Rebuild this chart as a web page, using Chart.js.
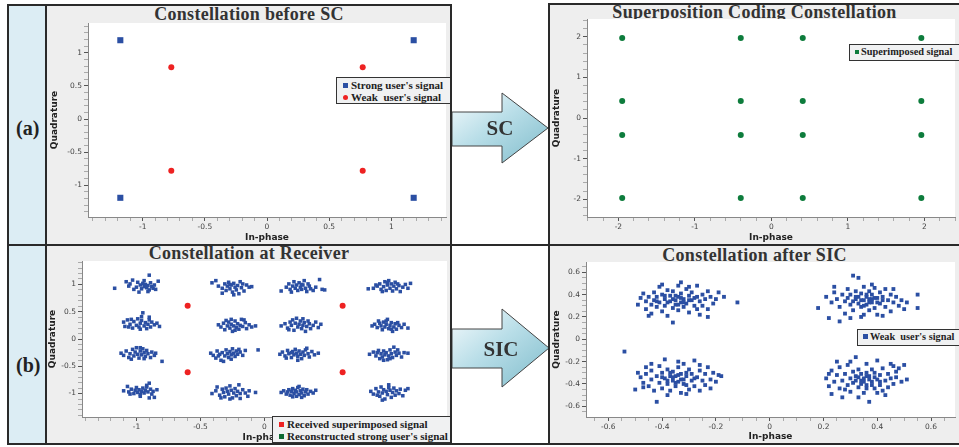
<!DOCTYPE html>
<html>
<head>
<meta charset="utf-8">
<script src="https://cdn.jsdelivr.net/npm/chart.js@4.4.0/dist/chart.umd.min.js"></script>
<style>
  body { margin:0; width:959px; height:447px; position:relative; overflow:hidden; background:#fff; }
  .panel { position:absolute; background:#eeeeee; }
  .cell { position:absolute; background:#dcedf4; }
  .title { position:absolute; left:0; right:0; text-align:center; font:bold 18px 'Liberation Serif', serif; line-height:18px; color:#333; white-space:nowrap; letter-spacing:0.3px; }
  .tag { position:absolute; font:bold 20px 'Liberation Serif', serif; color:#222; }
  .legend { position:absolute; background:#f0f1f2; border:1px solid #333; box-sizing:border-box; font:bold 11px 'Liberation Serif', serif; color:#222; white-space:nowrap; padding:0 0 0 6px; z-index:5; }
  .legend div { height:12px; line-height:12px; }
  .mk { display:inline-block; width:5px; height:5px; margin-right:3px; vertical-align:1px; }
  .ln { position:absolute; background:#2a2a2a; z-index:6; }
  canvas { position:absolute; z-index:2; }
  svg { position:absolute; left:0; top:0; z-index:4; }
</style>
</head>
<body>

<div class="cell" style="left:7px;top:5px;width:39px;height:439px;"></div>
<div class="tag" style="left:16px;top:117px;">(a)</div>
<div class="tag" style="left:16px;top:354px;">(b)</div>

<div class="panel" style="left:47px;top:6px;width:404px;height:238px;"><div class="title" style="top:-1px;">Constellation before SC</div></div>
<div class="panel" style="left:550px;top:4px;width:409px;height:240px;"><div class="title" style="top:-1px;">Superposition Coding Constellation</div></div>
<div class="panel" style="left:47px;top:246px;width:404px;height:198px;"><div class="title" style="top:-2px;">Constellation at Receiver</div></div>
<div class="panel" style="left:550px;top:246px;width:409px;height:198px;"><div class="title" style="top:0px;">Constellation after SIC</div></div>

<canvas id="c1" width="404" height="237" style="left:47px;top:6px;"></canvas>
<canvas id="c2" width="408" height="238" style="left:551px;top:5px;"></canvas>
<canvas id="c3" width="404" height="198" style="left:47px;top:246px;"></canvas>
<canvas id="c4" width="408" height="198" style="left:551px;top:246px;"></canvas>

<div class="legend" style="left:336px;top:77px;width:116px;height:27px;padding-top:1px;">
  <div><span class="mk" style="background:#2b4fa3"></span>Strong user's signal</div>
  <div><span class="mk" style="background:#ee2222;border-radius:50%"></span>Weak&nbsp; user's signal</div>
</div>
<div class="legend" style="left:849px;top:44px;width:120px;height:17px;padding-top:1px;padding-left:5px;font-size:10.3px;">
  <div><span class="mk" style="background:#0d7c3c;width:4px;height:4px;margin-right:2px"></span>Superimposed signal</div>
</div>
<div class="legend" style="left:272px;top:416px;width:180px;height:27px;padding-top:1px;">
  <div><span class="mk" style="background:#ee2222"></span>Received superimposed signal</div>
  <div><span class="mk" style="background:#0d6a32"></span>Reconstructed strong user's signal</div>
</div>
<div class="legend" style="left:857px;top:329px;width:110px;height:17px;padding-top:1px;padding-left:5px;font-size:10.3px;">
  <div><span class="mk" style="background:#2b4fa3;margin-right:2px"></span>Weak&nbsp; user's signal</div>
</div>

<svg width="959" height="447">
  <defs>
    <linearGradient id="ag" x1="0" y1="0" x2="1" y2="1">
      <stop offset="0" stop-color="#f6fbfd"/>
      <stop offset="0.45" stop-color="#b9dee8"/>
      <stop offset="1" stop-color="#7fbccb"/>
    </linearGradient>
  </defs>
  <polygon points="452,112 502,112 502,93 548,128 502,163 502,146 452,146" fill="url(#ag)" stroke="#444" stroke-width="1"/>
  <polygon points="452,329 502,329 502,309 549,348 502,387 502,368 452,368" fill="url(#ag)" stroke="#444" stroke-width="1"/>
  <text x="500" y="135" text-anchor="middle" font-family="Liberation Serif" font-weight="bold" font-size="21" fill="#333">SC</text>
  <text x="501" y="356" text-anchor="middle" font-family="Liberation Serif" font-weight="bold" font-size="21" fill="#333">SIC</text>
</svg>

<div class="ln" style="left:7px;top:4px;width:445px;height:2px;"></div>
<div class="ln" style="left:549px;top:3px;width:410px;height:2px;"></div>
<div class="ln" style="left:7px;top:244px;width:952px;height:2px;"></div>
<div class="ln" style="left:7px;top:443px;width:952px;height:2px;"></div>
<div class="ln" style="left:7px;top:4px;width:2px;height:441px;"></div>
<div class="ln" style="left:45px;top:4px;width:2px;height:441px;"></div>
<div class="ln" style="left:450px;top:4px;width:2px;height:441px;"></div>
<div class="ln" style="left:548px;top:3px;width:2px;height:442px;"></div>

<script>
// panel (a) left: constellation before SC
const strongPts = [[-1.18, 1.19], [1.18, 1.19], [-1.18, -1.19], [1.18, -1.19]];
const weakPts = [[-0.77, 0.78], [0.77, 0.78], [-0.77, -0.78], [0.77, -0.78]];

// panel (a) right: superposition coding constellation
const scPts = [
  [-1.95, 1.97], [-0.4, 1.97], [0.41, 1.97], [1.96, 1.97],
  [-1.95, 0.42], [-0.4, 0.42], [0.41, 0.42], [1.96, 0.42],
  [-1.95, -0.42], [-0.4, -0.42], [0.41, -0.42], [1.96, -0.42],
  [-1.95, -1.97], [-0.4, -1.97], [0.41, -1.97], [1.96, -1.97]
];

// panel (b) left: constellation at receiver
const rxPts = [
  [-1.17,0.93],[-1.08,1.05],[-1.05,1.01],[-1.03,1.08],[-1.00,0.95],[-0.99,1.04],[-0.97,0.99],[-0.96,0.92],[-0.95,1.02],[-0.94,0.96],[-0.93,1.00],[-0.92,0.94],[-0.91,0.98],[-0.90,1.17],[-0.90,0.90],[-0.89,1.03],[-0.88,0.96],[-0.87,0.93],[-0.86,0.99],[-0.83,1.06],[-1.06,0.97],[-1.02,0.91],[-0.98,0.86],[-0.94,1.07],[-0.91,0.87],[-0.85,0.91],
  [-0.41,1.03],[-0.38,1.07],[-0.36,0.97],[-0.33,0.93],[-0.31,1.01],[-0.30,0.89],[-0.29,0.97],[-0.28,1.04],[-0.27,0.92],[-0.26,0.99],[-0.25,0.86],[-0.24,1.02],[-0.23,0.95],[-0.22,0.90],[-0.21,0.98],[-0.20,0.83],[-0.19,1.05],[-0.18,0.94],[-0.16,0.88],[-0.14,0.99],[-0.12,0.95],[-0.10,0.96],[-0.33,0.84],[-0.27,1.00],[-0.24,0.81],[-0.17,1.01],
  [0.13,0.88],[0.17,0.95],[0.19,1.01],[0.20,0.91],[0.22,0.97],[0.23,1.05],[0.24,0.93],[0.25,0.99],[0.26,0.89],[0.27,1.03],[0.28,0.95],[0.29,0.91],[0.30,0.99],[0.31,1.07],[0.32,0.93],[0.33,0.87],[0.35,0.97],[0.36,0.92],[0.38,0.89],[0.40,0.95],[0.43,1.09],[0.45,0.91],[0.47,0.90],[0.21,0.86],[0.29,1.00],[0.34,1.01],
  [0.81,0.92],[0.85,0.93],[0.88,0.97],[0.90,1.01],[0.91,0.91],[0.93,0.96],[0.94,1.05],[0.95,0.89],[0.96,0.99],[0.97,1.07],[0.98,0.93],[0.99,1.01],[1.00,0.88],[1.01,0.97],[1.02,1.04],[1.03,0.92],[1.05,0.98],[1.06,0.87],[1.08,0.95],[1.10,1.00],[1.12,0.93],[1.14,1.02],[0.92,0.87],[0.96,1.03],[1.04,1.01],[0.87,0.99],
  [-1.10,0.31],[-1.09,0.23],[-1.07,0.35],[-1.05,0.27],[-1.03,0.20],[-1.02,0.32],[-1.00,0.25],[-0.99,0.37],[-0.98,0.22],[-0.97,0.29],[-0.96,0.34],[-0.95,0.48],[-0.94,0.24],[-0.93,0.30],[-0.92,0.19],[-0.91,0.27],[-0.90,0.35],[-0.89,0.22],[-0.88,0.31],[-0.86,0.26],[-0.84,0.29],[-0.82,0.23],[-0.96,0.41],[-1.04,0.36],[-0.97,0.18],[-0.90,0.40],[-1.06,0.22],
  [-0.36,0.26],[-0.34,0.22],[-0.32,0.29],[-0.31,0.17],[-0.29,0.24],[-0.28,0.31],[-0.27,0.20],[-0.26,0.27],[-0.25,0.14],[-0.24,0.24],[-0.23,0.33],[-0.22,0.21],[-0.21,0.28],[-0.20,0.18],[-0.19,0.25],[-0.18,0.36],[-0.17,0.23],[-0.15,0.30],[-0.14,0.19],[-0.12,0.26],[-0.10,0.22],[-0.07,0.24],[-0.30,0.34],[-0.23,0.16],[-0.16,0.35],[-0.26,0.36],
  [0.13,0.24],[0.16,0.28],[0.18,0.20],[0.20,0.31],[0.21,0.25],[0.23,0.16],[0.24,0.29],[0.25,0.38],[0.26,0.22],[0.27,0.27],[0.28,0.33],[0.29,0.19],[0.30,0.25],[0.31,0.30],[0.32,0.14],[0.33,0.23],[0.35,0.28],[0.36,0.19],[0.38,0.25],[0.40,0.31],[0.42,0.21],[0.44,0.27],[0.22,0.35],[0.30,0.37],[0.34,0.33],[0.19,0.17],
  [0.84,0.24],[0.86,0.27],[0.88,0.21],[0.90,0.29],[0.91,0.24],[0.92,0.17],[0.93,0.31],[0.94,0.22],[0.95,0.27],[0.96,0.36],[0.97,0.19],[0.98,0.25],[0.99,0.30],[1.00,0.14],[1.01,0.22],[1.02,0.28],[1.03,0.18],[1.05,0.25],[1.07,0.21],[1.09,0.27],[1.12,0.20],[0.95,0.33],[0.99,0.18],[0.89,0.33],[1.04,0.30],
  [-1.12,-0.26],[-1.10,-0.30],[-1.08,-0.22],[-1.06,-0.34],[-1.05,-0.27],[-1.03,-0.19],[-1.02,-0.31],[-1.01,-0.24],[-1.00,-0.16],[-0.99,-0.28],[-0.98,-0.35],[-0.97,-0.22],[-0.96,-0.29],[-0.95,-0.18],[-0.94,-0.25],[-0.93,-0.32],[-0.92,-0.21],[-0.91,-0.27],[-0.89,-0.34],[-0.88,-0.24],[-0.86,-0.30],[-0.85,-0.26],[-0.80,-0.41],[-1.04,-0.37],[-0.97,-0.16],[-0.94,-0.36],
  [-0.42,-0.26],[-0.40,-0.30],[-0.38,-0.35],[-0.37,-0.22],[-0.35,-0.28],[-0.34,-0.39],[-0.33,-0.25],[-0.31,-0.31],[-0.30,-0.20],[-0.29,-0.27],[-0.28,-0.34],[-0.27,-0.23],[-0.26,-0.29],[-0.25,-0.18],[-0.24,-0.26],[-0.23,-0.32],[-0.22,-0.22],[-0.21,-0.28],[-0.19,-0.24],[-0.17,-0.30],[-0.15,-0.21],[-0.05,-0.20],[-0.32,-0.41],[-0.26,-0.37],[-0.20,-0.19],[-0.36,-0.31],
  [0.12,-0.28],[0.14,-0.24],[0.16,-0.31],[0.18,-0.21],[0.19,-0.27],[0.21,-0.34],[0.22,-0.23],[0.23,-0.29],[0.24,-0.19],[0.25,-0.26],[0.26,-0.32],[0.27,-0.22],[0.28,-0.28],[0.29,-0.36],[0.30,-0.24],[0.31,-0.30],[0.32,-0.20],[0.34,-0.27],[0.35,-0.33],[0.37,-0.23],[0.39,-0.29],[0.42,-0.26],[0.17,-0.35],[0.26,-0.39],[0.33,-0.17],[0.21,-0.25],
  [0.82,-0.28],[0.85,-0.24],[0.87,-0.31],[0.89,-0.21],[0.90,-0.36],[0.91,-0.27],[0.92,-0.33],[0.93,-0.22],[0.94,-0.29],[0.95,-0.25],[0.96,-0.38],[0.97,-0.31],[0.98,-0.20],[0.99,-0.27],[1.00,-0.34],[1.01,-0.15],[1.02,-0.24],[1.03,-0.30],[1.05,-0.26],[1.07,-0.33],[1.09,-0.25],[1.12,-0.26],[0.93,-0.39],[0.98,-0.36],[1.04,-0.20],[0.88,-0.25],
  [-1.10,-0.95],[-1.07,-0.87],[-1.06,-0.97],[-1.04,-0.92],[-1.02,-1.00],[-1.01,-0.94],[-1.00,-0.89],[-0.99,-0.98],[-0.98,-0.93],[-0.97,-1.02],[-0.96,-0.96],[-0.95,-0.90],[-0.94,-0.99],[-0.93,-0.94],[-0.92,-0.85],[-0.91,-0.97],[-0.90,-0.81],[-0.89,-0.92],[-0.88,-1.01],[-0.87,-0.96],[-0.86,-1.07],[-0.84,-0.93],[-0.90,-1.08],[-0.97,-1.05],[-1.05,-1.01],[-0.92,-0.88],
  [-0.41,-1.00],[-0.38,-0.95],[-0.37,-0.88],[-0.35,-1.03],[-0.33,-0.92],[-0.32,-0.98],[-0.31,-1.06],[-0.30,-0.90],[-0.29,-0.96],[-0.28,-1.01],[-0.27,-0.86],[-0.26,-0.94],[-0.25,-1.08],[-0.24,-0.99],[-0.23,-0.91],[-0.22,-1.04],[-0.21,-0.96],[-0.20,-0.84],[-0.19,-1.00],[-0.17,-0.93],[-0.15,-0.99],[-0.13,-1.05],[-0.12,-0.95],[-0.07,-0.98],[-0.34,-1.08],[-0.27,-1.10],[-0.19,-1.09],
  [0.13,-0.98],[0.15,-0.95],[0.17,-1.01],[0.18,-0.97],[0.19,-0.93],[0.20,-1.03],[0.21,-0.96],[0.22,-0.91],[0.23,-1.00],[0.24,-0.94],[0.25,-1.05],[0.25,-0.97],[0.26,-0.89],[0.27,-1.02],[0.28,-0.95],[0.29,-0.99],[0.30,-0.92],[0.31,-1.04],[0.32,-0.97],[0.33,-0.93],[0.34,-1.01],[0.36,-0.96],[0.38,-0.99],[0.40,-0.94],[0.22,-1.06],[0.29,-1.07],[0.27,-0.87],
  [0.83,-0.96],[0.85,-1.01],[0.87,-0.91],[0.89,-0.97],[0.90,-1.05],[0.91,-0.88],[0.92,-0.99],[0.93,-0.93],[0.94,-1.10],[0.95,-0.96],[0.96,-1.02],[0.97,-0.84],[0.98,-0.94],[0.99,-1.07],[1.00,-0.98],[1.01,-0.90],[1.02,-1.03],[1.03,-0.95],[1.05,-1.00],[1.06,-0.92],[1.08,-1.04],[1.10,-0.94],[1.12,-0.91],[0.92,-1.12],[0.88,-1.03],[0.97,-0.89]
];
const rxSuperPts = [[-0.6, 0.61], [0.61, 0.61], [-0.6, -0.61], [0.61, -0.61]];
const rxStrongPts = []; // listed in legend only, nothing visible

// panel (b) right: constellation after SIC
const sicPts = [
  [-0.49,0.31],[-0.48,0.37],[-0.47,0.41],[-0.46,0.34],[-0.46,0.27],[-0.45,0.38],[-0.44,0.31],[-0.44,0.23],[-0.43,0.42],[-0.43,0.35],
  [-0.42,0.29],[-0.42,0.38],[-0.41,0.47],[-0.41,0.33],[-0.40,0.25],[-0.40,0.40],[-0.39,0.36],[-0.39,0.30],[-0.38,0.44],[-0.38,0.21],
  [-0.37,0.34],[-0.37,0.39],[-0.36,0.28],[-0.36,0.43],[-0.35,0.35],[-0.35,0.31],[-0.34,0.48],[-0.34,0.38],[-0.34,0.26],[-0.33,0.33],
  [-0.33,0.41],[-0.32,0.36],[-0.32,0.29],[-0.31,0.45],[-0.31,0.32],[-0.30,0.39],[-0.30,0.24],[-0.29,0.35],[-0.29,0.42],[-0.28,0.30],
  [-0.28,0.37],[-0.27,0.48],[-0.27,0.27],[-0.26,0.34],[-0.25,0.40],[-0.25,0.30],[-0.24,0.36],[-0.23,0.43],[-0.23,0.27],[-0.22,0.38],
  [-0.21,0.32],[-0.20,0.36],[-0.23,0.20],[-0.19,0.42],[-0.17,0.38],[-0.12,0.33],[-0.36,0.15],[-0.40,0.49],[-0.33,0.51],[-0.45,0.21],[-0.30,0.47],[-0.26,0.22],
  [-0.38,0.33],[-0.35,0.39],[-0.32,0.33],[-0.36,0.36],[-0.30,0.35],[-0.39,0.39],[-0.34,0.31],[-0.27,0.38],[-0.42,0.34],[-0.33,0.37],
  [0.18,0.28],[0.21,0.38],[0.22,0.19],[0.23,0.33],[0.24,0.42],[0.25,0.36],[0.26,0.29],[0.27,0.40],[0.28,0.34],[0.28,0.23],
  [0.29,0.45],[0.29,0.37],[0.30,0.31],[0.30,0.40],[0.31,0.57],[0.31,0.26],[0.32,0.36],[0.32,0.43],[0.33,0.55],[0.33,0.32],
  [0.33,0.38],[0.34,0.29],[0.34,0.41],[0.35,0.35],[0.35,0.22],[0.35,0.47],[0.36,0.38],[0.36,0.31],[0.37,0.43],[0.37,0.26],
  [0.37,0.36],[0.38,0.40],[0.38,0.33],[0.39,0.46],[0.39,0.28],[0.40,0.37],[0.40,0.22],[0.41,0.42],[0.41,0.32],[0.42,0.38],
  [0.43,0.29],[0.43,0.45],[0.44,0.35],[0.45,0.40],[0.45,0.25],[0.46,0.33],[0.47,0.38],[0.48,0.30],[0.49,0.35],[0.50,0.27],
  [0.51,0.33],[0.55,0.40],[0.55,0.28],[0.26,0.16],[0.34,0.20],[0.42,0.21],[0.24,0.47],[0.38,0.49],[0.30,0.19],[0.46,0.45],
  [0.34,0.35],[0.37,0.33],[0.39,0.37],[0.36,0.40],[0.32,0.38],[0.40,0.33],[0.35,0.30],[0.38,0.36],[0.31,0.34],[0.42,0.35],
  [-0.54,-0.11],[-0.50,-0.45],[-0.48,-0.34],[-0.47,-0.39],[-0.46,-0.25],[-0.46,-0.31],[-0.45,-0.42],[-0.44,-0.36],[-0.44,-0.28],[-0.43,-0.46],
  [-0.42,-0.33],[-0.42,-0.56],[-0.41,-0.39],[-0.41,-0.24],[-0.40,-0.30],[-0.40,-0.44],[-0.39,-0.35],[-0.39,-0.18],[-0.38,-0.40],[-0.38,-0.27],
  [-0.37,-0.33],[-0.37,-0.46],[-0.36,-0.37],[-0.36,-0.29],[-0.35,-0.42],[-0.35,-0.33],[-0.34,-0.25],[-0.34,-0.38],[-0.33,-0.48],[-0.33,-0.31],
  [-0.32,-0.36],[-0.32,-0.22],[-0.31,-0.41],[-0.31,-0.33],[-0.30,-0.27],[-0.30,-0.45],[-0.29,-0.37],[-0.29,-0.31],[-0.28,-0.19],[-0.28,-0.42],
  [-0.27,-0.34],[-0.26,-0.28],[-0.26,-0.46],[-0.25,-0.37],[-0.24,-0.31],[-0.24,-0.41],[-0.23,-0.25],[-0.22,-0.36],[-0.22,-0.44],[-0.21,-0.30],
  [-0.20,-0.38],[-0.19,-0.32],[-0.18,-0.33],[-0.26,-0.23],[-0.38,-0.50],[-0.49,-0.30],[-0.44,-0.22],[-0.31,-0.49],[-0.47,-0.43],[-0.34,-0.20],
  [-0.36,-0.34],[-0.33,-0.36],[-0.38,-0.37],[-0.31,-0.30],[-0.35,-0.39],[-0.40,-0.34],[-0.28,-0.35],[-0.34,-0.32],[-0.37,-0.30],[-0.32,-0.40],
  [0.21,-0.35],[0.22,-0.42],[0.23,-0.28],[0.23,-0.49],[0.24,-0.38],[0.25,-0.32],[0.26,-0.44],[0.26,-0.25],[0.27,-0.52],[0.27,-0.37],
  [0.28,-0.31],[0.29,-0.41],[0.29,-0.23],[0.30,-0.35],[0.30,-0.47],[0.31,-0.29],[0.31,-0.39],[0.32,-0.33],[0.32,-0.16],[0.33,-0.43],
  [0.33,-0.27],[0.34,-0.37],[0.34,-0.31],[0.35,-0.48],[0.35,-0.35],[0.36,-0.22],[0.36,-0.41],[0.37,-0.56],[0.37,-0.33],[0.38,-0.38],
  [0.38,-0.27],[0.39,-0.44],[0.39,-0.30],[0.40,-0.36],[0.40,-0.19],[0.41,-0.41],[0.41,-0.32],[0.42,-0.46],[0.42,-0.26],[0.43,-0.37],
  [0.44,-0.31],[0.44,-0.43],[0.45,-0.22],[0.45,-0.35],[0.46,-0.40],[0.47,-0.29],[0.47,-0.34],[0.48,-0.26],[0.49,-0.38],[0.50,-0.23],
  [0.51,-0.36],[0.25,-0.20],[0.28,-0.45],[0.36,-0.30],[0.43,-0.50],[0.22,-0.31],[0.33,-0.52],[0.40,-0.48],[0.46,-0.24],[0.30,-0.20],
  [0.35,-0.38],[0.37,-0.36],[0.33,-0.34],[0.39,-0.34],[0.36,-0.33],[0.34,-0.40],[0.38,-0.41],[0.32,-0.37],[0.41,-0.38],[0.36,-0.44]
];

// tick labels
const ticks1 = [-1, -0.5, 0, 0.5, 1];
const ticks1Lbl = ['-1', '-0.5', '0', '0.5', '1'];
const ticks2 = [-2, -1, 0, 1, 2];
const ticks2Lbl = ['-2', '-1', '0', '1', '2'];
const ticks4 = [-0.6, -0.4, -0.2, 0, 0.2, 0.4, 0.6];
const ticks4Lbl = ['-0.6', '-0.4', '-0.2', '0', '0.2', '0.4', '0.6'];

const BLUE = '#2b4fa3', RED = '#ee2222', GREEN = '#0d7c3c';

const pts = a => a.map(([x, y]) => ({ x, y }));

const whiteArea = {
  id: 'whiteArea',
  beforeDraw(chart) {
    const a = chart.chartArea, ctx = chart.ctx;
    ctx.save();
    ctx.fillStyle = '#ffffff';
    ctx.fillRect(a.left, a.top, a.right - a.left, a.bottom - a.top);
    ctx.restore();
  }
};

function axis(s, text, horiz) {
  const isMajor = v => s.majors.some(m => Math.abs(m - v) < 1e-6);
  return {
    type: 'linear',
    min: s.min, max: s.max,
    afterBuildTicks(sc) {
      const list = [];
      for (let k = Math.ceil(s.min / s.step - 1e-9); k * s.step <= s.max + 1e-9; k++) {
        list.push({ value: +(k * s.step).toFixed(4) });
      }
      sc.ticks = list;
    },
    afterFit(sc) {
      if (horiz) sc.height = s.size; else sc.width = s.size;
    },
    ticks: {
      autoSkip: false, maxRotation: 0, minRotation: 0, padding: 2,
      color: '#444', font: { family: 'DejaVu Sans', size: 7.5 },
      callback: v => {
        const i = s.majors.findIndex(m => Math.abs(m - v) < 1e-6);
        return i >= 0 ? s.labels[i] : '';
      }
    },
    grid: {
      display: true, drawOnChartArea: false, drawTicks: true, tickLength: 4,
      tickColor: ctx => (ctx.tick && isMajor(ctx.tick.value)) ? '#555' : '#aaa'
    },
    border: { display: true, color: '#888', width: 1 },
    title: {
      display: true, text,
      color: '#222', font: { family: 'DejaVu Sans', size: 9, weight: 'bold' },
      padding: s.titlePad
    }
  };
}

function scatter(id, datasets, pad, xs, ys) {
  new Chart(document.getElementById(id), {
    type: 'scatter',
    data: { datasets },
    options: {
      responsive: false, animation: false,
      layout: { padding: pad },
      plugins: { legend: { display: false }, tooltip: { enabled: false } },
      scales: { x: axis(xs, 'In-phase', true), y: axis(ys, 'Quadrature', false) }
    },
    plugins: [whiteArea]
  });
}

scatter('c1', [
  { data: pts(strongPts), pointStyle: 'rect', pointRadius: 4.3, backgroundColor: BLUE, borderWidth: 0 },
  { data: pts(weakPts), pointStyle: 'circle', pointRadius: 3, backgroundColor: RED, borderWidth: 0 }
], { left: 0, top: 17, right: 5, bottom: 0 },
  { min: -1.44, max: 1.44, step: 0.1, majors: ticks1, labels: ticks1Lbl, size: 26, titlePad: { top: 0, bottom: 0 } },
  { min: -1.48, max: 1.45, step: 0.1, majors: ticks1, labels: ticks1Lbl, size: 41, titlePad: { top: 2, bottom: 0 } });

scatter('c2', [
  { data: pts(scPts), pointStyle: 'circle', pointRadius: 3, backgroundColor: GREEN, borderWidth: 0 }
], { left: 0, top: 14, right: 0, bottom: 0 },
  { min: -2.41, max: 2.40, step: 0.2, majors: ticks2, labels: ticks2Lbl, size: 26, titlePad: { top: 0, bottom: 0 } },
  { min: -2.44, max: 2.44, step: 0.2, majors: ticks2, labels: ticks2Lbl, size: 36, titlePad: { top: 0, bottom: 0 } });

scatter('c3', [
  { data: pts(rxPts), pointStyle: 'rect', pointRadius: 2.5, backgroundColor: BLUE, borderWidth: 0 },
  { data: pts(rxStrongPts), pointStyle: 'rect', pointRadius: 2.5, backgroundColor: '#0d6a32', borderWidth: 0 },
  { data: pts(rxSuperPts), pointStyle: 'circle', pointRadius: 3, backgroundColor: RED, borderWidth: 0 }
], { left: 0, top: 15, right: 3, bottom: 0 },
  { min: -1.425, max: 1.425, step: 0.1, majors: ticks1, labels: ticks1Lbl, size: 27, titlePad: { top: 0, bottom: 1 } },
  { min: -1.43, max: 1.43, step: 0.1, majors: ticks1, labels: ticks1Lbl, size: 35, titlePad: { top: 0, bottom: 0 } });

scatter('c4', [
  { data: pts(sicPts), pointStyle: 'rect', pointRadius: 2.7, backgroundColor: BLUE, borderWidth: 0 }
], { left: 0, top: 16, right: 0, bottom: 0 },
  { min: -0.683, max: 0.689, step: 0.05, majors: ticks4, labels: ticks4Lbl, size: 27, titlePad: { top: 0, bottom: 2 } },
  { min: -0.696, max: 0.692, step: 0.05, majors: ticks4, labels: ticks4Lbl, size: 35, titlePad: { top: 0, bottom: 0 } });
</script>
</body>
</html>
